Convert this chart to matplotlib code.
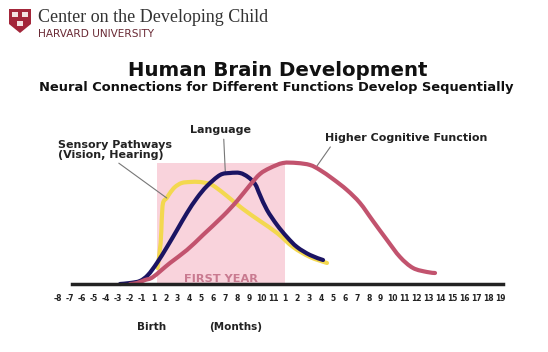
import matplotlib
matplotlib.use("Agg")
import matplotlib.pyplot as plt
from matplotlib.patches import Rectangle, Polygon, PathPatch
from matplotlib.path import Path
import numpy as np

W, H = 548, 352

# ---- data (x in tick-index units, y = height above baseline) ----
tick_labels = [str(v) for v in range(-8, 0)] + [str(v) for v in range(1, 12)] + [str(v) for v in range(1, 20)]

sensory_x = [8.33, 8.59, 8.68, 8.79, 9.10, 9.37, 9.79, 10.35, 11.05, 11.88, 12.72, 13.28,
             14.14, 15.48, 16.90, 18.33, 19.67, 21.09, 22.51]
sensory_y = [16, 41, 64, 81, 86, 91, 97, 101, 102, 102, 100, 96, 88, 75, 63, 51, 37, 27, 21]

language_x = [5.19, 6.03, 6.86, 7.53, 8.28, 9.12, 9.96, 10.79, 11.63, 12.47, 13.56, 14.39, 15.23,
              15.90, 16.49, 16.90, 17.49, 18.33, 19.16, 20.0, 21.09, 22.18]
language_y = [0, 1, 3, 9, 21, 37, 54, 71, 86, 98, 109, 111, 111, 107, 100, 89, 74, 59, 47, 37, 29, 24]

cognitive_x = [6.03, 6.61, 7.28, 7.95, 9.37, 10.79, 12.13, 13.81, 14.98, 16.07, 16.90, 17.74,
               18.83, 20.0, 21.09, 21.92, 23.01, 24.18, 25.27, 26.36, 27.53, 28.62, 29.71, 30.88, 31.55]
cognitive_y = [0, 1, 4, 7, 21, 34, 49, 68, 83, 99, 110, 116, 121, 121, 119, 114, 105, 94, 81,
               63, 44, 27, 16, 12, 11]

first_year_span = [8.28, 19.0]
first_year_top = 121


def smooth_path(xs, ys):
    """Bezier path through the given points (Catmull-Rom style control points)."""
    p = np.column_stack([xs, ys]).astype(float)
    verts = [p[0]]
    codes = [Path.MOVETO]
    n = len(p)
    for i in range(n - 1):
        p0 = p[i - 1] if i > 0 else p[i]
        p1, p2 = p[i], p[i + 1]
        p3 = p[i + 2] if i + 2 < n else p[i + 1]
        c1 = p1 + (p2 - p0) / 6.0
        c2 = p2 - (p3 - p1) / 6.0
        verts += [c1, c2, p2]
        codes += [Path.CURVE4] * 3
    return Path(verts, codes)


# ---- figure ----
fig = plt.figure(figsize=(W / 100, H / 100), dpi=100)
fig.patch.set_facecolor("white")
ax = fig.add_axes([0, 0, 1, 1])
ax.set_xlim(-58 / 11.95, (W - 58) / 11.95)
ax.set_ylim(284 - H, 284)

ax.add_patch(Rectangle((first_year_span[0], 0), first_year_span[1] - first_year_span[0],
                       first_year_top, facecolor="#f9d3dc", edgecolor="none", zorder=1))
ax.text(np.mean(first_year_span), 5, "FIRST YEAR", ha="center", va="center",
        fontsize=8.2, fontweight="bold", color="#c97a90", zorder=2)

for xs, ys, col, z in [(sensory_x, sensory_y, "#f3d84f", 3),
                       (language_x, language_y, "#1b1463", 4),
                       (cognitive_x, cognitive_y, "#c2536e", 5)]:
    ax.add_patch(PathPatch(smooth_path(xs, ys), facecolor="none", edgecolor=col,
                           lw=3.0, capstyle="round", joinstyle="round", zorder=z))

# baseline axis
for s in ["left", "right", "top"]:
    ax.spines[s].set_visible(False)
ax.spines["bottom"].set_position(("data", 0))
ax.spines["bottom"].set_bounds(1.17, 37.2)
ax.spines["bottom"].set_linewidth(2.5)
ax.spines["bottom"].set_color("#222222")
ax.spines["bottom"].set_zorder(6)
ax.set_yticks([])
ax.set_xticks(range(len(tick_labels)))
ax.set_xticklabels(tick_labels, fontsize=5.5, fontweight="bold", color="#222222")
ax.tick_params(axis="x", length=0, pad=7)

# annotations
txt_kw = dict(fontsize=8, fontweight="bold", color="#222222")
ax.annotate("Sensory Pathways\n(Vision, Hearing)", xy=(9.10, 86), xytext=(0, 134),
            ha="left", va="center", linespacing=1.1,
            arrowprops=dict(arrowstyle="-", color="#777777", lw=0.8,
                            shrinkA=0, shrinkB=0, relpos=(0.5, 0)), **txt_kw)
ax.annotate("Language", xy=(14.0, 112), xytext=(13.6, 154), ha="center", va="center",
            arrowprops=dict(arrowstyle="-", color="#777777", lw=0.8,
                            shrinkA=1, shrinkB=0, relpos=(0.55, 0)), **txt_kw)
ax.annotate("Higher Cognitive Function", xy=(21.67, 118), xytext=(22.34, 146),
            ha="left", va="center",
            arrowprops=dict(arrowstyle="-", color="#777777", lw=0.8,
                            shrinkA=1, shrinkB=0, relpos=(0.05, 0)), **txt_kw)

# titles
def fx(px):
    return px / W

def fy(py):
    return 1 - py / H

fig.text(fx(278), fy(70), "Human Brain Development", ha="center", va="center",
         fontsize=14.2, fontweight="bold", color="#111111")
fig.text(fx(276), fy(88), "Neural Connections for Different Functions Develop Sequentially",
         ha="center", va="center", fontsize=9.4, fontweight="bold", color="#111111")

fig.text(fx(152), fy(327), "Birth", ha="center", va="center", fontsize=7.5,
         fontweight="bold", color="#222222")
fig.text(fx(236), fy(327), "(Months)", ha="center", va="center", fontsize=7.5,
         fontweight="bold", color="#222222")

# header / logo
shield = Polygon([[fx(9), fy(9)], [fx(31), fy(9)], [fx(31), fy(24)], [fx(20), fy(33)],
                  [fx(9), fy(24)]], closed=True, transform=fig.transFigure,
                 facecolor="#a3263a", edgecolor="none")
fig.patches.append(shield)
for (bx, by) in [(12, 12), (22, 12), (17, 21)]:
    fig.patches.append(Rectangle((fx(bx), fy(by + 5)), 6 / W, 5 / H, transform=fig.transFigure,
                                 facecolor="#f3e2e2", edgecolor="none"))
fig.text(fx(38), fy(18), "Center on the Developing Child", ha="left", va="center",
         fontsize=13, family="Liberation Serif", color="#333333")
fig.text(fx(38), fy(34), "HARVARD UNIVERSITY", ha="left", va="center",
         fontsize=7.6, color="#6a2a35")

fig.savefig("out.png", dpi=100, facecolor="white")
